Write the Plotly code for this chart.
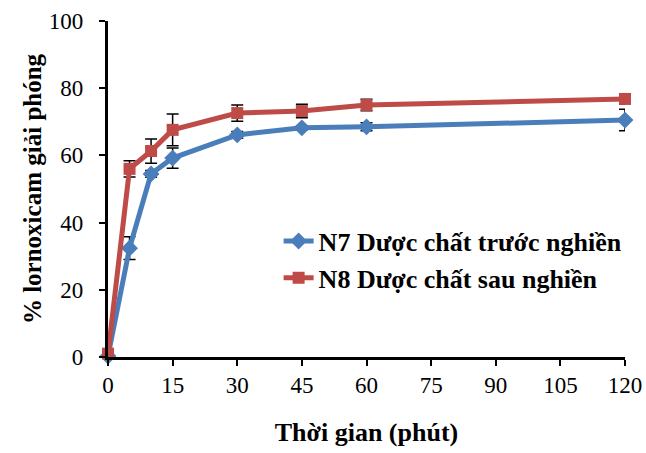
import plotly.graph_objects as go

time_min = [0, 5, 10, 15, 30, 45, 60, 120]
n7_values = [0.3, 32.4, 54.5, 59.2, 66.1, 68.2, 68.5, 70.5]
n7_err = [0, 3.4, 1.0, 3.0, 1.0, 0.6, 1.2, 3.2]
n8_values = [1.0, 56.0, 61.3, 67.6, 72.6, 73.2, 75.0, 76.8]
n8_err = [0, 2.4, 3.6, 4.7, 2.4, 2.0, 1.7, 1.5]
series_names = ["N7 Dược chất trước nghiền", "N8 Dược chất sau nghiền"]
x_ticks = [0, 15, 30, 45, 60, 75, 90, 105, 120]
y_ticks = [0, 20, 40, 60, 80, 100]

FONT = "Liberation Serif"
fig = go.Figure()
fig.add_trace(go.Scatter(
    x=time_min, y=n7_values, name=series_names[0], mode="lines+markers",
    line=dict(color="#4a7ebb", width=5),
    marker=dict(symbol="diamond", size=13, color="#4a7ebb"),
    error_y=dict(type="data", array=n7_err, color="black", thickness=1.5, width=6),
    cliponaxis=False,
))
fig.add_trace(go.Scatter(
    x=time_min, y=n8_values, name=series_names[1], mode="lines+markers",
    line=dict(color="#be4b48", width=5),
    marker=dict(symbol="square", size=12, color="#be4b48"),
    error_y=dict(type="data", array=n8_err, color="black", thickness=1.5, width=6),
    cliponaxis=False,
))
fig.update_layout(
    width=646, height=453,
    margin=dict(l=108, r=21, t=21, b=96),
    paper_bgcolor="white", plot_bgcolor="white",
    font=dict(family=FONT, size=23, color="black"),
    showlegend=True,
    legend=dict(x=0.33, y=0.29, xanchor="left", yanchor="middle",
                font=dict(family=FONT, size=26, color="black", weight="bold"),
                bgcolor="rgba(0,0,0,0)"),
    xaxis=dict(
        range=[0, 120], tickvals=x_ticks, ticktext=[str(v) for v in x_ticks],
        showline=True, linecolor="black", linewidth=2.5, mirror=False,
        ticks="outside", ticklen=6, tickwidth=2, tickcolor="black",
        showgrid=False, zeroline=False, automargin=False,
        tickfont=dict(size=23),
        title=dict(text="Thời gian (phút)", font=dict(family=FONT, size=26, weight="bold"), standoff=26),
    ),
    yaxis=dict(
        range=[0, 100], tickvals=y_ticks, ticktext=[f"{v}\u2002" for v in y_ticks],
        showline=True, linecolor="black", linewidth=2.5,
        ticks="outside", ticklen=6, tickwidth=2, tickcolor="black",
        showgrid=False, zeroline=False, automargin=False,
        tickfont=dict(size=23),
        title=dict(text="% lornoxicam giải phóng", font=dict(family=FONT, size=25, weight="bold"), standoff=0),
    ),
)
fig.write_html("out.html")
